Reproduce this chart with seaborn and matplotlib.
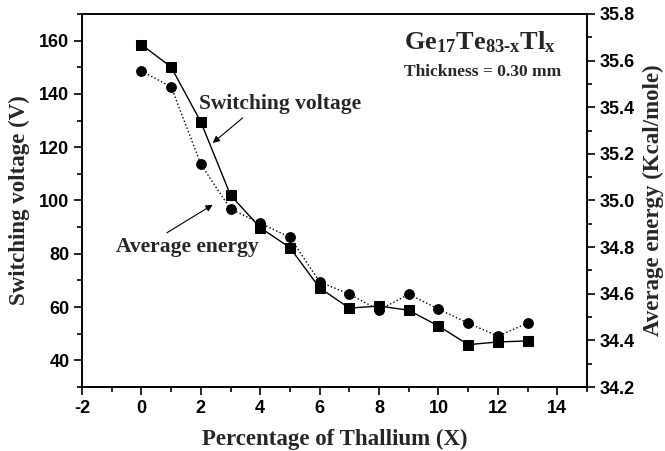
import numpy as np
import pandas as pd
import matplotlib
matplotlib.use("Agg")
import matplotlib.pyplot as plt
from matplotlib.ticker import MultipleLocator, FormatStrFormatter
import seaborn as sns

# Thallium content (at. %)
thallium = [0, 1, 2, 3, 4, 5, 6, 7, 8, 9, 10, 11, 12, 13]
# Switching voltage (V) for 0.30 mm samples
switching_voltage = [158.5, 150.1, 129.5, 102.0, 89.8, 82.3, 67.2, 59.6, 60.4, 58.8,
                     52.9, 45.9, 46.9, 47.3]
# Average bond energy (Kcal/mole)
average_energy = [35.555, 35.488, 35.156, 34.963, 34.903, 34.842, 34.651, 34.598,
                  34.530, 34.598, 34.534, 34.474, 34.418, 34.474]

df = pd.DataFrame({"x": thallium, "vt": switching_voltage, "energy": average_energy})

sns.set_theme(style="ticks")
plt.rcParams["font.family"] = ["Liberation Sans", "DejaVu Sans"]
plt.rcParams["axes.unicode_minus"] = False
plt.rcParams["mathtext.fontset"] = "custom"
plt.rcParams["mathtext.rm"] = "Liberation Serif:bold"
plt.rcParams["mathtext.it"] = "Liberation Serif:bold"
plt.rcParams["mathtext.bf"] = "Liberation Serif:bold"

serif = {"family": "Liberation Serif", "weight": "bold"}

fig = plt.figure(figsize=(6.65, 4.51), dpi=100)
ax = fig.add_axes([0.1233, 0.1419, 0.7594, 0.8271])
ax2 = ax.twinx()

sns.lineplot(data=df, x="x", y="vt", ax=ax, color="black", linewidth=1.0,
             marker="s", markersize=6.5, markeredgecolor="black", markerfacecolor="black")
sns.lineplot(data=df, x="x", y="energy", ax=ax2, color="black", linewidth=1.0,
             linestyle=":", marker="o", markersize=7,
             markeredgecolor="black", markerfacecolor="black")

ax.set_xlim(-2, 15)
ax.set_ylim(30, 170)
ax2.set_ylim(34.2, 35.8)

ax.xaxis.set_major_locator(MultipleLocator(2))
ax.xaxis.set_minor_locator(MultipleLocator(1))
ax.yaxis.set_major_locator(MultipleLocator(20))
ax.yaxis.set_minor_locator(MultipleLocator(10))
ax2.yaxis.set_major_locator(MultipleLocator(0.2))
ax2.yaxis.set_minor_locator(MultipleLocator(0.1))
ax2.yaxis.set_major_formatter(FormatStrFormatter("%.1f"))

for a in (ax, ax2):
    for s in a.spines.values():
        s.set_visible(True)
        s.set_linewidth(1.2)
        s.set_color("black")
    a.tick_params(which="major", direction="out", length=6, width=1.2, colors="black",
                  labelsize=13, pad=3)
    a.tick_params(which="minor", direction="out", length=3.5, width=1.2, colors="black")
ax.tick_params(axis="y", which="both", right=False)
ax.tick_params(axis="x", which="both", top=False)
for lab in ax.get_xticklabels() + ax.get_yticklabels() + ax2.get_yticklabels():
    lab.set_fontweight("bold")

ax.set_xlabel("Percentage of Thallium (X)", fontsize=16.5, labelpad=9, **serif)
ax.set_ylabel("Switching voltage (V)", fontsize=16.5, labelpad=7, **serif)
ax2.set_ylabel("Average energy (Kcal/mole)", fontsize=16.5, labelpad=6, **serif)

ax.text(11.4, 159.5, r"$\mathrm{Ge}_{17}\mathrm{Te}_{83\text{-}x}\mathrm{Tl}_{x}$",
        fontsize=19, ha="center", va="center")
ax.text(11.48, 148.3, "Thickness = 0.30 mm", fontsize=12.5, ha="center", va="center",
        **serif)

ax.text(4.66, 136.3, "Switching voltage", fontsize=15.5, ha="center", va="center", **serif)
ax.text(1.53, 82.6, "Average energy", fontsize=15.5, ha="center", va="center", **serif)

arrow = dict(arrowstyle="-|>", color="black", lw=0.8, mutation_scale=10,
             shrinkA=0, shrinkB=0)
ax.annotate("", xy=(2.40, 121.6), xytext=(3.41, 131.0), arrowprops=arrow)
ax.annotate("", xy=(2.40, 98.4), xytext=(0.86, 87.9), arrowprops=arrow)

fig.savefig("out.png", dpi=100)
